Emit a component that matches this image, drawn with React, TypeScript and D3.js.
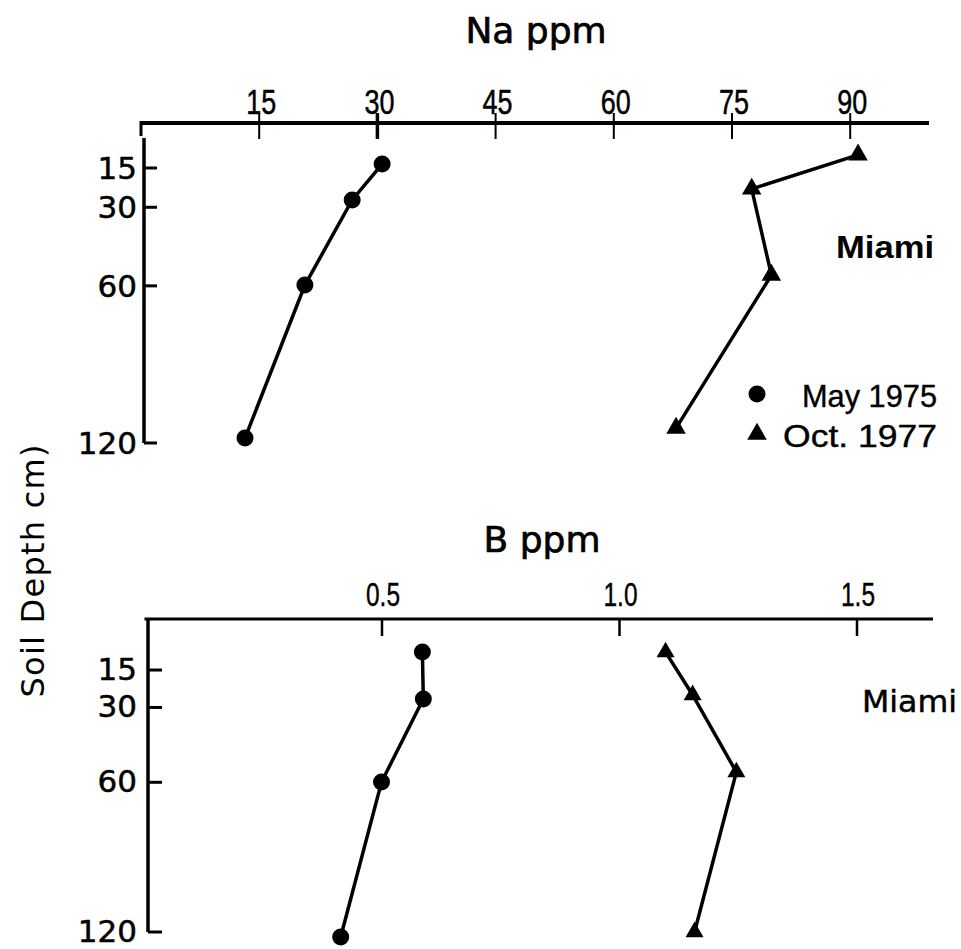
import React from "react";
import * as d3 from "d3";

// ---- data ----
const depthTicks = [15, 30, 60, 120];
const naTicks = [15, 30, 45, 60, 75, 90];
const bTicks = [0.5, 1.0, 1.5];

const naMayDepth = [13.5, 27.2, 59.7, 118.1];
const naMay = [30.6, 26.8, 20.8, 13.2];
const naOctDepth = [10.0, 23.0, 55.9, 114.3];
const naOct = [91.0, 77.5, 80.0, 67.9];

const bMayDepth = [7.8, 26.6, 59.9, 122.0];
const bMay = [0.585, 0.587, 0.499, 0.413];
const bOctDepth = [7.8, 25.0, 55.9, 120.0];
const bOct = [1.097, 1.154, 1.246, 1.158];

const legendLabels = ["May  1975", "Oct.  1977"];

const W = 961;
const H = 949;

const serif = "'DejaVu Sans', 'Noto Sans', sans-serif";
const arial = "'Liberation Sans', Arial, sans-serif";

function zip(xs: number[], ys: number[]): [number, number][] {
  return xs.map((x, i) => [x, ys[i]]);
}

export default function App() {
  // top panel scales
  const xNa = d3.scaleLinear().domain([0, 100]).range([141, 929]);
  const yTop = d3.scaleLinear().domain([0, 120]).range([128.7, 443]);
  // bottom panel scales
  const xB = d3.scaleLinear().domain([0, 1.66]).range([144.5, 933]);
  const yBot = d3.scaleLinear().domain([0, 120]).range([632.6, 932]);

  const tri = d3.symbol().type(d3.symbolTriangle).size(165)() as string;
  const triSmall = d3.symbol().type(d3.symbolTriangle).size(140)() as string;

  const lineTop = d3
    .line<[number, number]>()
    .x((d) => xNa(d[0]))
    .y((d) => yTop(d[1]));
  const lineBot = d3
    .line<[number, number]>()
    .x((d) => xB(d[0]))
    .y((d) => yBot(d[1]));

  const naMayPts = zip(naMay, naMayDepth);
  const naOctPts = zip(naOct, naOctDepth);
  const bMayPts = zip(bMay, bMayDepth);
  const bOctPts = zip(bOct, bOctDepth);

  const fmtB = d3.format(".1f");

  return (
    <svg
      width={W}
      height={H}
      style={{ position: "absolute", left: 0, top: 0, background: "#fff" }}
    >
      <rect x={0} y={0} width={W} height={H} fill="#fff" />

      {/* ===== Top panel ===== */}
      <text x={536} y={43} fontFamily={serif} fontSize={36} textAnchor="middle" fill="#000" stroke="#000" strokeWidth={0.7}>
        Na ppm
      </text>
      {/* x axis */}
      <line x1={xNa(0)} x2={xNa(100)} y1={123} y2={123} stroke="#000" strokeWidth={4} />
      <line x1={xNa(0)} x2={xNa(0)} y1={121} y2={136} stroke="#000" strokeWidth={3} />
      {naTicks.map((t) => (
        <g key={"nt" + t}>
          <line x1={xNa(t)} x2={xNa(t)} y1={113} y2={139} stroke="#000" strokeWidth={t === 30 ? 3.5 : 2} />
          <text
            x={xNa(t) + 2}
            y={114}
            fontFamily={arial}
            fontSize={35}
            textAnchor="middle"
            textLength={30}
            lengthAdjust="spacingAndGlyphs"
            fill="#000"
            stroke="#000"
            strokeWidth={0.5}
          >
            {String(t)}
          </text>
        </g>
      ))}
      {/* y axis */}
      <line x1={144} x2={144} y1={138} y2={yTop(120)} stroke="#000" strokeWidth={3.5} />
      {depthTicks.map((t) => (
        <g key={"dt" + t}>
          <line x1={144} x2={157} y1={yTop(t)} y2={yTop(t)} stroke="#000" strokeWidth={3} />
          <text
            x={137}
            y={yTop(t) + 11}
            fontFamily={serif}
            fontSize={31}
            textAnchor="end"
            fill="#000"
            stroke="#000"
            strokeWidth={0.5}
          >
            {String(t)}
          </text>
        </g>
      ))}
      {/* series */}
      <path d={lineTop(naMayPts) || ""} fill="none" stroke="#000" strokeWidth={3.5} />
      <path d={lineTop(naOctPts) || ""} fill="none" stroke="#000" strokeWidth={3.5} />
      {naMayPts.map((p, i) => (
        <circle key={"nm" + i} cx={xNa(p[0])} cy={yTop(p[1])} r={8.5} fill="#000" />
      ))}
      {naOctPts.map((p, i) => (
        <path key={"no" + i} d={tri} transform={`translate(${xNa(p[0])},${yTop(p[1])})`} fill="#000" />
      ))}
      <text
        x={836}
        y={258}
        fontFamily={arial}
        fontWeight="bold"
        fontSize={31}
        textLength={98}
        lengthAdjust="spacingAndGlyphs"
        fill="#000"
      >
        Miami
      </text>
      {/* legend */}
      <circle cx={757} cy={394} r={8.5} fill="#000" />
      <text
        x={802}
        y={407}
        fontFamily={arial}
        fontSize={32}
        textLength={135}
        lengthAdjust="spacingAndGlyphs"
        fill="#000"
        stroke="#000"
        strokeWidth={0.4}
      >
        {legendLabels[0]}
      </text>
      <path d={tri} transform="translate(757,434)" fill="#000" />
      <text
        x={783}
        y={447}
        fontFamily={arial}
        fontSize={32}
        textLength={154}
        lengthAdjust="spacingAndGlyphs"
        fill="#000"
        stroke="#000"
        strokeWidth={0.4}
      >
        {legendLabels[1]}
      </text>

      {/* y axis title */}
      <text
        transform="translate(44,571) rotate(-90)"
        fontFamily={serif}
        fontSize={32}
        textAnchor="middle"
        textLength={253}
        lengthAdjust="spacing"
        fill="#000"
      >
        Soil  Depth  cm)
      </text>

      {/* ===== Bottom panel ===== */}
      <text x={542} y={552} fontFamily={serif} fontSize={36} textAnchor="middle" fill="#000" stroke="#000" strokeWidth={0.7}>
        B ppm
      </text>
      <line x1={xB(0)} x2={xB(1.66)} y1={619} y2={619} stroke="#000" strokeWidth={3} />
      {bTicks.map((t) => (
        <g key={"bt" + t}>
          <line x1={xB(t)} x2={xB(t)} y1={619} y2={636} stroke="#000" strokeWidth={2.5} />
          <text
            x={xB(t) + 1}
            y={606}
            fontFamily={arial}
            fontSize={34}
            textAnchor="middle"
            textLength={34}
            lengthAdjust="spacingAndGlyphs"
            fill="#000"
            stroke="#000"
            strokeWidth={0.4}
          >
            {fmtB(t)}
          </text>
        </g>
      ))}
      <line x1={148} x2={148} y1={618} y2={yBot(120)} stroke="#000" strokeWidth={3.5} />
      {depthTicks.map((t) => (
        <g key={"bd" + t}>
          <line x1={148} x2={162} y1={yBot(t)} y2={yBot(t)} stroke="#000" strokeWidth={3} />
          <text
            x={137}
            y={yBot(t) + 10}
            fontFamily={serif}
            fontSize={31}
            textAnchor="end"
            fill="#000"
            stroke="#000"
            strokeWidth={0.5}
          >
            {String(t)}
          </text>
        </g>
      ))}
      <path d={lineBot(bMayPts) || ""} fill="none" stroke="#000" strokeWidth={3.5} />
      <path d={lineBot(bOctPts) || ""} fill="none" stroke="#000" strokeWidth={3.5} />
      {bMayPts.map((p, i) => (
        <circle key={"bm" + i} cx={xB(p[0])} cy={yBot(p[1])} r={8.5} fill="#000" />
      ))}
      {bOctPts.map((p, i) => (
        <path key={"bo" + i} d={triSmall} transform={`translate(${xB(p[0])},${yBot(p[1])})`} fill="#000" />
      ))}
      <text x={862} y={712} fontFamily={serif} fontSize={31} textLength={95} lengthAdjust="spacingAndGlyphs" fill="#000" stroke="#000" strokeWidth={0.5}>
        Miami
      </text>
    </svg>
  );
}
